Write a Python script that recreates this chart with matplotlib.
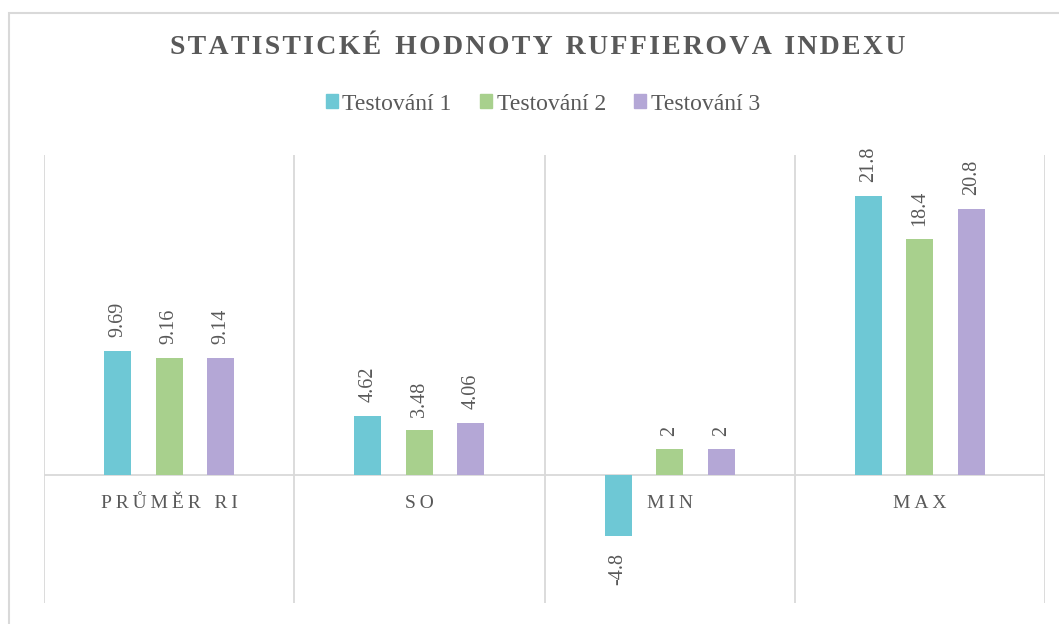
import matplotlib
matplotlib.use("Agg")
import matplotlib.pyplot as plt
from matplotlib.patches import Rectangle
import numpy as np

categories = ["PRŮMĚR RI", "SO", "MIN", "MAX"]
series_names = ["Testování 1", "Testování 2", "Testování 3"]
test1 = [9.69, 4.62, -4.8, 21.8]
test2 = [9.16, 3.48, 2, 18.4]
test3 = [9.14, 4.06, 2, 20.8]
title = "STATISTICKÉ HODNOTY RUFFIEROVA INDEXU"

colors = ["#6EC8D5", "#A8D08D", "#B4A7D6"]
text_color = "#595959"
grid_color = "#D9D9D9"

plt.rcParams["font.family"] = ["Liberation Serif", "DejaVu Serif"]

def spaced(s, sep="\u2009", wsep=None):
    words = s.split(" ")
    if wsep is None:
        wsep = sep * 3
    return wsep.join(sep.join(w) for w in words)

W, H = 1059, 624
fig = plt.figure(figsize=(W / 100, H / 100), dpi=100)

# chart border (only top/left visible)
fig.patches.append(Rectangle((9 / W, -0.1), 1.2, 1 - 13 / H + 0.1,
                             transform=fig.transFigure, fill=False,
                             edgecolor=grid_color, linewidth=1.5))

ax = fig.add_axes([44 / W, 1 - 603 / H, (1045 - 44) / W, (603 - 155) / H])
ax.set_xlim(-0.5, len(categories) - 0.5)
ax.set_ylim(-10, 25)
for s in ax.spines.values():
    s.set_visible(False)
ax.set_xticks([])
ax.set_yticks([])

for b in np.arange(-0.5, len(categories), 1.0):
    ax.axvline(b, color=grid_color, linewidth=1.3, zorder=0)
ax.axhline(0, color=grid_color, linewidth=1.3, zorder=1)

x = np.arange(len(categories))
width = 0.108
step = 0.206
all_series = [test1, test2, test3]
for i, (vals, c, name) in enumerate(zip(all_series, colors, series_names)):
    pos = x + (i - 1) * step
    ax.bar(pos, vals, width, color=c, label=name, zorder=2)
    for px, v in zip(pos, vals):
        lab = f"{v:g}"
        if v >= 0:
            ax.annotate(lab, (px, v), xytext=(0, 10), textcoords="offset points",
                        rotation=90, ha="center", va="bottom",
                        fontsize=14.5, color=text_color)
        else:
            ax.annotate(lab, (px, v), xytext=(0, -12), textcoords="offset points",
                        rotation=90, ha="center", va="top",
                        fontsize=14.5, color=text_color)

for xi, cat in zip(x, categories):
    ax.annotate(spaced(cat, "\u2009", " \u2009 "), (xi, 0), xytext=(0, -20.5),
                textcoords="offset points",
                ha="center", va="center", fontsize=14, color=text_color)

fig.text(538 / W, 1 - 48 / H, spaced(title, "\u200a", "  "), ha="center", va="center",
         fontsize=20, fontweight="bold", color=text_color)

handles = [Rectangle((0, 0), 1, 1, color=c) for c in colors]
fig.legend(handles, series_names, loc="center", bbox_to_anchor=(543 / W, 1 - 104 / H),
           ncol=3, frameon=False, fontsize=17, handlelength=0.5, handleheight=0.5,
           handletextpad=0.2, columnspacing=1.2, labelcolor=text_color)

fig.savefig("out.png", dpi=100)
